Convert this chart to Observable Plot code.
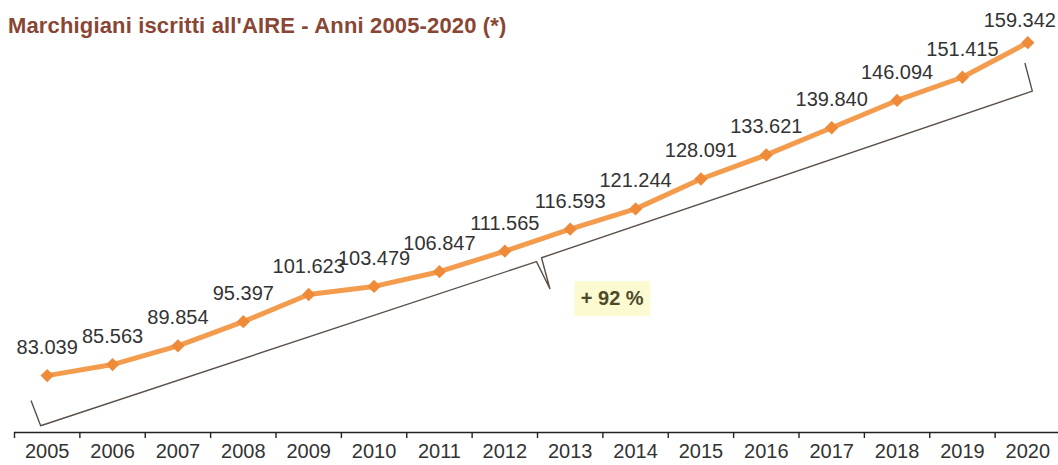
<!DOCTYPE html>
<html>
<head>
<meta charset="utf-8">
<script src="https://cdn.jsdelivr.net/npm/d3@7"></script>
<script src="https://cdn.jsdelivr.net/npm/@observablehq/plot@0.6"></script>
<style>
  html, body { margin: 0; padding: 0; background: #fff; }
  #wrap { position: relative; width: 1058px; height: 465px; overflow: hidden; }
  #title { position: absolute; left: 8px; top: 15px; margin: 0; font: bold 22px "Liberation Sans", Arial, sans-serif; letter-spacing: 0.15px; line-height: 22px; color: #8a4634; white-space: nowrap; z-index: 2; }
</style>
</head>
<body>
<div id="wrap">
  <div id="title">Marchigiani iscritti all'AIRE - Anni 2005-2020 (*)</div>
  <div id="chart"></div>
</div>
<script>
const years = [2005, 2006, 2007, 2008, 2009, 2010, 2011, 2012, 2013, 2014, 2015, 2016, 2017, 2018, 2019, 2020];
const iscritti = [83039, 85563, 89854, 95397, 101623, 103479, 106847, 111565, 116593, 121244, 128091, 133621, 139840, 146094, 151415, 159342];
const yDomain = [70000, 169000];

const data = years.map((year, i) => ({year, value: iscritti[i]}));
const fmt = d3.formatLocale({decimal: ",", thousands: ".", grouping: [3], currency: ["", "€"]}).format(",d");
const boundaries = years.map(y => y - 0.5);
const pct = Math.round((iscritti[iscritti.length - 1] / iscritti[0] - 1) * 100);

function brace(index, scales) {
  const x = scales.x, y = scales.y;
  const p0 = [x(years[0]), y(iscritti[0])];
  const p1 = [x(years[years.length - 1]), y(iscritti[iscritti.length - 1])];
  const dxv = p1[0] - p0[0], dyv = p1[1] - p0[1];
  const L = Math.hypot(dxv, dyv);
  const u = [dxv / L, dyv / L];
  const n = [-u[1], u[0]];
  const pt = (a, b) => [p0[0] + u[0] * a + n[0] * b, p0[1] + u[1] * a + n[1] * b];
  const mid = L * 0.485;
  const pts = [pt(-23, 19), pt(-22, 46), pt(mid - 2, 50), pt(mid + 2, 80), pt(mid + 4, 48), pt(L - 11, 48), pt(L - 9, 19)];
  const g = d3.create("svg:g");
  g.append("path")
    .attr("d", d3.line()(pts))
    .attr("fill", "none")
    .attr("stroke", "#5a5048")
    .attr("stroke-width", 1.4)
    .attr("stroke-linejoin", "round");
  const c = pt(L * 0.541, 109);
  g.append("rect")
    .attr("x", c[0] - 38).attr("y", c[1] - 17)
    .attr("width", 76).attr("height", 35)
    .attr("fill", "#fcfad0");
  g.append("text")
    .attr("x", c[0]).attr("y", c[1])
    .attr("dy", "0.35em")
    .attr("text-anchor", "middle")
    .attr("font-size", 20)
    .attr("font-weight", "bold")
    .attr("fill", "#4d4a2c")
    .text(`+ ${pct} %`);
  return g.node();
}

const chart = Plot.plot({
  width: 1058,
  height: 465,
  marginTop: 0,
  marginBottom: 33,
  marginLeft: 14,
  marginRight: 0,
  x: {domain: [2004.5, 2020.5], range: [14, 1060], label: null},
  y: {domain: yDomain, axis: null},
  style: {fontFamily: '"Liberation Sans", Arial, sans-serif', fontSize: "20px", background: "#fff", color: "#333"},
  marks: [
    brace,
    Plot.ruleY([yDomain[0]], {stroke: "#222", strokeWidth: 1.6}),
    Plot.axisX({ticks: boundaries, tickSize: 6, tickFormat: () => "", label: null, stroke: "#222", strokeWidth: 1.4}),
    Plot.axisX({ticks: years, tickSize: 0, tickPadding: 11, tickFormat: d => String(d), label: null, fontSize: 20, fill: "#333"}),
    Plot.line(data, {x: "year", y: "value", stroke: "#f39c4e", strokeWidth: 5}),
    Plot.dot(data, {x: "year", y: "value", symbol: "diamond2", r: 6, fill: "#ee8a38", stroke: "none"}),
    Plot.text(data.slice(0, -1), {x: "year", y: "value", text: d => fmt(d.value), dy: -28, fill: "#333", fontSize: 20}),
    Plot.text(data.slice(-1), {x: "year", y: "value", text: d => fmt(d.value), dy: -22, dx: -8, fill: "#333", fontSize: 20})
  ]
});
document.getElementById("chart").appendChild(chart);
</script>
</body>
</html>
